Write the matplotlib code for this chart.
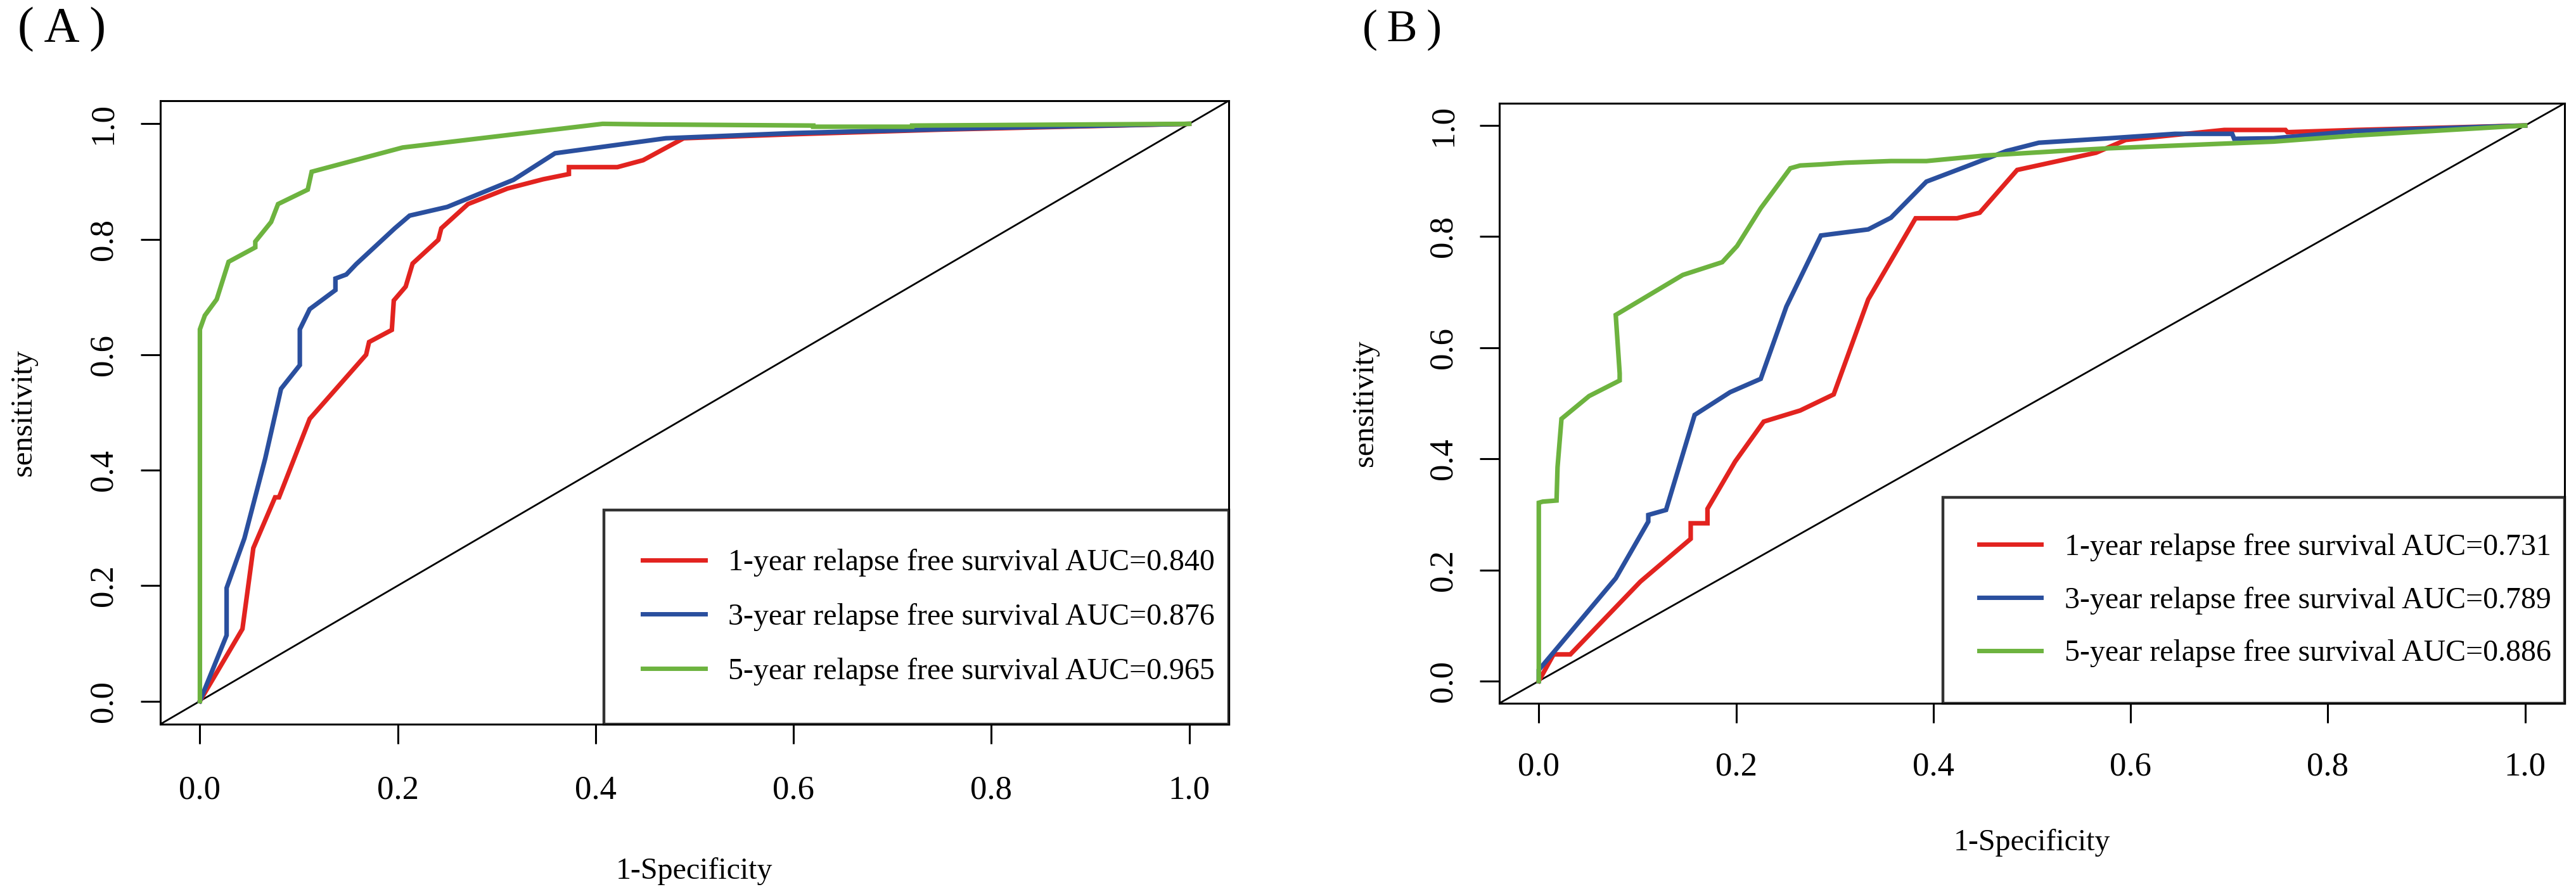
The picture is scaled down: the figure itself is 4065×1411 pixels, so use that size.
import matplotlib
matplotlib.use("Agg")
import matplotlib.pyplot as plt
from matplotlib.lines import Line2D

plt.rcParams['font.family'] = ['Liberation Serif', 'DejaVu Serif']

# ---------------- data ----------------
ticks = [0.0, 0.2, 0.4, 0.6, 0.8, 1.0]
tick_labels = ["0.0", "0.2", "0.4", "0.6", "0.8", "1.0"]

# Panel A
a1_x = [0.0, 0.043, 0.054, 0.076, 0.080, 0.111, 0.168, 0.171, 0.194, 0.196, 0.208, 0.215,
        0.241, 0.244, 0.271, 0.311, 0.347, 0.373, 0.373, 0.422, 0.448, 0.489, 0.60, 0.75, 1.0]
a1_y = [0.0, 0.125, 0.265, 0.353, 0.353, 0.489, 0.600, 0.622, 0.643, 0.694, 0.718, 0.758,
        0.799, 0.819, 0.861, 0.888, 0.904, 0.913, 0.925, 0.925, 0.937, 0.975, 0.982, 0.990, 1.0]
a3_x = [0.0, 0.027, 0.027, 0.045, 0.066, 0.082, 0.101, 0.101, 0.111, 0.137, 0.137, 0.148,
        0.158, 0.197, 0.212, 0.250, 0.317, 0.359, 0.471, 0.60, 0.80, 1.0]
a3_y = [0.0, 0.114, 0.196, 0.282, 0.420, 0.541, 0.582, 0.644, 0.679, 0.712, 0.732, 0.739,
        0.757, 0.819, 0.841, 0.856, 0.903, 0.949, 0.975, 0.984, 0.993, 1.0]
a5_x = [0.0, 0.0, 0.005, 0.017, 0.029, 0.056, 0.056, 0.072, 0.079, 0.109, 0.113, 0.205,
        0.407, 0.454, 0.536, 0.62, 0.62, 0.72, 0.72, 1.0]
a5_y = [0.0, 0.644, 0.668, 0.696, 0.761, 0.786, 0.796, 0.830, 0.861, 0.886, 0.917, 0.959,
        1.0, 0.999, 0.998, 0.997, 0.995, 0.995, 0.997, 1.0]

# Panel B
b1_x = [0.0, 0.015, 0.032, 0.103, 0.154, 0.154, 0.171, 0.171, 0.199, 0.228, 0.265, 0.299,
        0.334, 0.382, 0.424, 0.447, 0.485, 0.565, 0.595, 0.695, 0.757, 0.759, 0.828, 1.0]
b1_y = [0.0, 0.048, 0.048, 0.179, 0.256, 0.284, 0.284, 0.310, 0.395, 0.467, 0.487, 0.516,
        0.687, 0.833, 0.833, 0.843, 0.920, 0.951, 0.974, 0.992, 0.992, 0.988, 0.992, 1.0]
b3_x = [0.0, 0.0, 0.078, 0.111, 0.111, 0.129, 0.158, 0.194, 0.225, 0.251, 0.286, 0.334,
        0.357, 0.393, 0.436, 0.474, 0.507, 0.578, 0.645, 0.703, 0.705, 0.745, 0.828, 1.0]
b3_y = [0.0, 0.02, 0.185, 0.287, 0.299, 0.308, 0.479, 0.520, 0.544, 0.674, 0.802, 0.813,
        0.834, 0.899, 0.928, 0.954, 0.969, 0.977, 0.985, 0.985, 0.976, 0.977, 0.990, 1.0]
b5_x = [0.0, 0.0, 0.004, 0.018, 0.019, 0.023, 0.051, 0.082, 0.082, 0.078, 0.146, 0.186,
        0.201, 0.225, 0.255, 0.265, 0.286, 0.311, 0.357, 0.393, 0.453, 0.528, 0.578, 0.745,
        0.828, 1.0]
b5_y = [0.0, 0.321, 0.323, 0.325, 0.385, 0.472, 0.513, 0.541, 0.554, 0.659, 0.731, 0.754,
        0.783, 0.851, 0.923, 0.928, 0.930, 0.933, 0.936, 0.936, 0.946, 0.954, 0.959, 0.971,
        0.982, 1.0]

labels_a = ["1-year relapse free survival AUC=0.840",
            "3-year relapse free survival AUC=0.876",
            "5-year relapse free survival AUC=0.965"]
labels_b = ["1-year relapse free survival AUC=0.731",
            "3-year relapse free survival AUC=0.789",
            "5-year relapse free survival AUC=0.886"]
colors = ["#E2231F", "#2A4F9E", "#6DB33F"]

# ---------------- figure ----------------
W, H = 4065, 1411
fig = plt.figure(figsize=(W / 100, H / 100), dpi=100)

def px_rect(l, t, r, b):
    return [l / W, 1 - b / H, (r - l) / W, (b - t) / H]

axA = fig.add_axes(px_rect(253, 159, 1939, 1143))
axB = fig.add_axes(px_rect(2366, 163, 4047, 1110))

def style(ax, curves, labels, xpad, ypad, xlab_y, ylab_x, leg_x0, bpad, lspace):
    for (x, y), c in zip(curves, colors):
        ax.plot(x, y, color=c, lw=5.2, solid_joinstyle='miter', zorder=3)
    ax.axline((0, 0), slope=1, color='black', lw=2.0, zorder=2)
    ax.set_xlim(-0.04, 1.04)
    ax.set_ylim(-0.04, 1.04)
    ax.set_xticks(ticks)
    ax.set_xticklabels(tick_labels)
    ax.set_yticks(ticks)
    ax.set_yticklabels(tick_labels, rotation=90, va='center')
    ax.tick_params(axis='both', direction='out', length=22.3, width=2.2,
                   labelsize=38, color='black')
    ax.tick_params(axis='x', pad=xpad)
    ax.tick_params(axis='y', pad=ypad)
    for s in ax.spines.values():
        s.set_linewidth(2.2)
    ax.set_xlabel("1-Specificity", fontsize=34.5)
    ax.set_ylabel("sensitivity", fontsize=35)
    ax.xaxis.set_label_coords(0.5, xlab_y)
    ax.xaxis.label.set_va('center')
    ax.yaxis.set_label_coords(ylab_x, 0.5)
    ax.yaxis.label.set_va('center')
    handles = [Line2D([], [], color=c, lw=5.0) for c in colors]
    leg = ax.legend(handles, labels, loc='lower right',
                    bbox_to_anchor=(leg_x0, 0, 1 - leg_x0, 1), mode='expand',
                    borderaxespad=0, fontsize=34.5, frameon=True, fancybox=False,
                    borderpad=bpad, labelspacing=lspace, handlelength=2.06,
                    handletextpad=0.77)
    leg.get_frame().set_edgecolor('black')
    leg.get_frame().set_linewidth(3.2)
    leg.set_zorder(5)

style(axA, [(a1_x, a1_y), (a3_x, a3_y), (a5_x, a5_y)], labels_a,
      xpad=36, ypad=25, xlab_y=-0.2358, ylab_x=-0.1281,
      leg_x0=0.4152, bpad=1.27, lspace=0.875)
style(axB, [(b1_x, b1_y), (b3_x, b3_y), (b5_x, b5_y)], labels_b,
      xpad=33, ypad=24, xlab_y=-0.2323, ylab_x=-0.1261,
      leg_x0=0.4164, bpad=1.18, lspace=0.83)

fig.text(98 / W, 1 - 47 / H, "(\u2009A\u2009)", fontsize=56, ha='center', va='center')
fig.text(2213 / W, 1 - 47 / H, "(\u2009B\u2009)", fontsize=52, ha='center', va='center')

fig.savefig("out.png", dpi=100)
